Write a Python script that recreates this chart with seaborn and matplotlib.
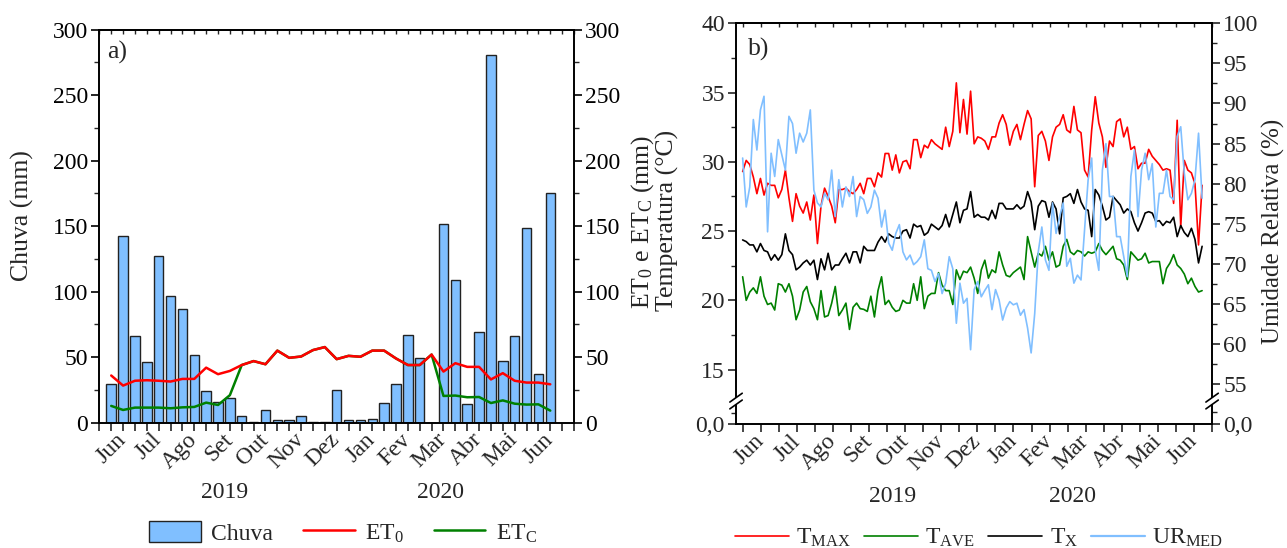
import numpy as np
import pandas as pd
import matplotlib
matplotlib.use("Agg")
import matplotlib.pyplot as plt
import seaborn as sns
from matplotlib.ticker import MultipleLocator, FixedLocator
from matplotlib.patches import Patch, Rectangle
from matplotlib.lines import Line2D

# ---------------- data: panel a (decendial) ----------------
meses = ['Jun', 'Jul', 'Ago', 'Set', 'Out', 'Nov', 'Dez', 'Jan', 'Fev', 'Mar', 'Abr', 'Mai', 'Jun']
decendio = list(range(1, 39))
chuva = [29.8, 142.4, 65.8, 46.4, 127, 97, 86.5, 51.8, 24, 15.6, 19, 5, 0.8, 10, 1.8, 2.3, 5, 0.3, 0.5,
         24.7, 2.3, 2.3, 3, 15.3, 29.3, 67.3, 49.5, 0, 151.5, 109, 14.3, 69, 281, 47, 66.3, 148.6, 37, 175.4]
et0 = [36, 28.3, 32, 32.4, 32, 31.4, 33.4, 33.4, 42, 37, 39.5, 44, 47, 44.6, 55, 49.5, 50.5, 55.4, 57.7,
       48.5, 51, 50.3, 55, 55, 49, 44, 44, 52, 39, 45.4, 42.6, 42.6, 33, 37.8, 32, 30.6, 30.6, 29.3]
etc = [12.8, 9.7, 11.5, 11.5, 11.5, 11, 11.7, 12, 15.3, 13.5, 21, 44, 47, 44.6, 55, 49.5, 50.5, 55.4, 57.7,
       48.5, 51, 50.3, 55, 55, 49, 44, 44, 52, 20.4, 20.7, 19.4, 19.6, 15, 17, 14.5, 13.8, 14, 9.2]

# ---------------- data: panel b (every 3 days from 2019-06-01) ----------------
tmax = [29.3, 30.1, 29.8, 28.9, 27.7, 28.8, 27.6, 28.45, 28.3, 28.3, 27.4, 28.0, 29.4, 27.4, 25.7, 27.7, 26.8,
        26.3, 27.1, 25.8, 27.6, 24.1, 26.8, 28.1, 27.5, 26.8, 25.6, 28.0, 28.0, 28.1, 27.85, 27.7, 28.0, 28.45,
        27.7, 28.8, 28.8, 28.2, 29.2, 28.9, 30.6, 30.6, 29.4, 30.5, 29.2, 30.0, 30.1, 29.5, 31.6, 31.6, 30.3,
        31.2, 31.0, 31.6, 31.3, 31.1, 30.9, 32.5, 31.1, 32.2, 35.7, 32.1, 34.5, 32.0, 35.1, 31.3, 31.8,
        31.7, 31.5, 30.9, 31.8, 31.8, 32.8, 33.4, 32.7, 31.2, 32.2, 32.7, 31.6, 32.7, 33.7, 33.1, 28.2, 31.9,
        32.2, 31.5, 30.1, 31.8, 32.5, 32.7, 33.4, 32.3, 32.1, 34.0, 32.3, 32.1, 29.4, 28.9, 32.3, 34.7, 32.8,
        31.8, 29.6, 31.5, 31.1, 32.9, 33.1, 31.8, 32.5, 30.9, 31.1, 29.5, 29.9, 29.9, 30.9, 30.4, 30.1, 29.8,
        29.4, 29.5, 29.4, 27.0, 33.0, 25.3, 30.1, 29.4, 29.2, 28.4, 24.0, 28.3]
tave = [21.7, 20.0, 20.6, 20.9, 20.5, 21.7, 20.3, 19.7, 19.8, 19.3, 21.2, 21.1, 20.6, 21.2, 20.3, 18.6, 19.3,
        20.6, 21.0, 19.9, 19.4, 18.6, 20.7, 18.8, 18.9, 19.8, 21.0, 18.9, 19.3, 19.8, 17.9, 19.5, 19.8, 19.4,
        19.35, 19.2, 20.3, 18.8, 20.7, 21.7, 19.7, 20.0, 19.5, 19.2, 19.3, 20.0, 19.8, 19.8, 21.2, 20.0, 21.7,
        19.4, 20.3, 20.5, 20.5, 22.0, 21.1, 20.7, 20.7, 19.7, 22.2, 21.5, 22.1, 22.0, 22.4, 21.6, 20.5,
        22.2, 22.9, 21.6, 22.2, 22.0, 23.5, 22.55, 21.8, 21.7, 22.0, 22.2, 22.4, 21.5, 24.6, 23.5, 22.4, 23.4,
        23.2, 23.9, 22.9, 23.5, 22.4, 22.55, 23.9, 24.4, 23.5, 23.3, 23.6, 23.5, 23.2, 23.5, 23.4, 23.5, 24.1,
        23.6, 23.3, 23.6, 23.9, 23.0, 22.9, 22.55, 21.5, 23.5, 23.2, 22.9, 23.0, 23.4, 22.7, 22.8, 22.8, 22.8,
        21.2, 22.3, 22.7, 23.3, 22.55, 22.3, 21.9, 21.2, 21.6, 21.0, 20.6, 20.7]
tx = [24.36, 24.24, 24.0, 24.0, 23.5, 24.1, 23.6, 23.5, 22.9, 23.3, 22.9, 23.3, 24.8, 23.6, 23.3, 22.2, 22.4,
      22.7, 22.9, 22.55, 22.9, 21.5, 23.0, 22.2, 23.4, 22.2, 22.55, 22.55, 23.0, 23.4, 22.7, 23.5, 23.5, 22.7,
      23.9, 23.6, 23.6, 23.6, 24.2, 24.6, 24.2, 24.8, 24.6, 24.5, 24.5, 25.0, 25.1, 24.5, 25.5, 25.3, 25.4,
      24.7, 24.9, 25.5, 25.3, 25.1, 25.4, 26.2, 25.3, 26.2, 27.1, 25.6, 26.5, 26.6, 27.85, 26.0, 26.2,
      26.0, 26.0, 25.8, 26.5, 25.9, 27.0, 27.0, 26.6, 26.6, 26.6, 26.9, 26.6, 26.8, 27.85, 27.1, 25.1, 26.8,
      27.2, 27.1, 26.0, 27.1, 26.6, 24.8, 27.4, 27.5, 27.7, 27.0, 28.0, 27.1, 26.6, 26.5, 24.6, 28.0, 27.6,
      26.8, 25.8, 26.0, 27.5, 27.2, 26.9, 26.3, 26.6, 26.4, 25.6, 25.0, 25.6, 26.3, 26.4, 26.3, 25.7, 25.75,
      25.4, 25.7, 25.6, 26.0, 24.6, 25.4, 24.9, 24.6, 25.2, 24.4, 22.7, 23.9]
urmed = [83.2, 77.1, 79.6, 88.0, 84.2, 89.2, 90.9, 74.0, 83.8, 80.9, 85.5, 83.6, 81.7, 88.4, 87.5, 83.8, 86.3,
         85.2, 86.3, 89.2, 79.2, 77.6, 77.1, 78.8, 78.0, 81.7, 75.9, 80.5, 77.1, 79.6, 78.4, 80.9, 75.9, 78.4,
         78.0, 76.3, 77.1, 79.2, 78.2, 74.6, 76.7, 72.6, 71.7, 73.8, 74.9, 71.5, 70.5, 71.1, 69.9, 70.3, 70.9,
         73.0, 69.4, 69.2, 67.8, 68.8, 66.3, 67.6, 70.9, 69.4, 62.6, 67.6, 65.1, 65.7, 59.3, 66.8, 67.8,
         65.9, 66.7, 67.4, 64.3, 66.8, 65.5, 63.0, 64.5, 65.3, 64.9, 65.1, 63.6, 64.3, 62.0, 58.9, 63.8, 71.5,
         74.6, 70.5, 69.2, 77.6, 73.8, 75.9, 77.6, 69.7, 70.7, 67.6, 68.6, 68.0, 74.2, 80.5, 83.2, 71.7, 69.2,
         81.7, 85.0, 78.4, 78.4, 73.4, 73.4, 70.9, 68.4, 80.9, 84.2, 75.9, 81.7, 83.8, 80.5, 82.5, 74.6, 78.8,
         78.8, 81.7, 78.4, 78.0, 85.9, 87.1, 81.3, 78.0, 78.8, 80.5, 86.3, 78.2]

datas = pd.date_range('2019-06-01', periods=len(tmax), freq='3D')
dias = np.asarray((datas - datas[0]).days, dtype=float)

# ---------------- style ----------------
sns.set_theme(style='ticks')
plt.rcParams['font.family'] = ['Liberation Serif', 'DejaVu Serif']
plt.rcParams['mathtext.fontset'] = 'custom'
plt.rcParams['mathtext.rm'] = 'Liberation Serif'
plt.rcParams['mathtext.it'] = 'Liberation Serif:italic'
plt.rcParams['mathtext.bf'] = 'Liberation Serif:bold'
plt.rcParams['axes.linewidth'] = 1.2
plt.rcParams['axes.edgecolor'] = 'black'

TICK = 17
LAB = 18.5
AZUL = '#80BFFF'

fig = plt.figure(figsize=(12.87, 5.48), dpi=100)
fig.patch.set_facecolor('white')

# ======================= panel a =======================
axa = fig.add_axes([0.0772, 0.2287, 0.3688, 0.7172])
dfa = pd.DataFrame({'decendio': decendio, 'chuva': chuva, 'et0': et0, 'etc': etc})
sns.barplot(data=dfa, x='decendio', y='chuva', native_scale=True, color=AZUL, saturation=1,
            edgecolor='#222222', linewidth=1.0, width=0.8, errorbar=None, ax=axa)
axa2 = axa.twinx()
sns.lineplot(data=dfa, x='decendio', y='etc', color='#008000', lw=1.8, ax=axa2)
sns.lineplot(data=dfa, x='decendio', y='et0', color='#FF0000', lw=1.8, ax=axa2)

axa.set_xlim(0, 40)
axa.set_ylim(0, 300)
axa2.set_ylim(0, 300)
for ax in (axa, axa2):
    ax.yaxis.set_major_locator(MultipleLocator(50))
    ax.yaxis.set_minor_locator(MultipleLocator(25))
    ax.tick_params(axis='y', which='major', direction='out', length=6, width=1.2, labelsize=TICK, pad=2, colors='black')
    ax.tick_params(axis='y', which='minor', direction='out', length=3.5, width=1.0)

labs = [''] * 41
for i, m in enumerate(meses):
    labs[2 + 3 * i] = m
axa.set_xticks(range(41))
axa.set_xticklabels(labs)
axa.tick_params(axis='x', direction='out', length=6, width=1.2, labelsize=TICK, pad=4)
for t in axa.get_xticklabels():
    t.set_rotation(45)
    t.set_ha('right')
    t.set_va('center')
    t.set_rotation_mode('anchor')
sa = axa.secondary_xaxis('top')
sa.set_xticks(range(41))
sa.tick_params(direction='in', length=3, width=1.0, labeltop=False)

axa.set_xlabel('')
axa.set_ylabel('Chuva (mm)', fontsize=LAB)
axa.yaxis.label.set_va('center')
axa.yaxis.set_label_coords(-0.163, 0.528)
axa2.set_ylabel(r'ET$_0$ e ET$_\mathrm{C}$ (mm)', fontsize=LAB)
axa2.yaxis.label.set_va('center')
axa2.yaxis.set_label_coords(1.145, 0.511)
axa.text(0.016, 0.943, 'a)', transform=axa.transAxes, fontsize=LAB, ha='left', va='center')

fig.text(225 / 1287, 1 - 493 / 548, '2019', ha='center', va='center', fontsize=TICK)
fig.text(440 / 1287, 1 - 493 / 548, '2020', ha='center', va='center', fontsize=TICK)

hand_a = [Patch(facecolor=AZUL, edgecolor='#222222', lw=1.0),
          Line2D([], [], color='#FF0000', lw=1.8),
          Line2D([], [], color='#008000', lw=1.8)]
fig.legend(hand_a, ['Chuva', r'ET$_0$', r'ET$_\mathrm{C}$'], loc='center', bbox_to_anchor=(343 / 1287, 1 - 533 / 548),
           ncol=3, frameon=False, fontsize=TICK, handlelength=2.2, handleheight=1.0, handletextpad=0.45,
           columnspacing=1.25, borderpad=0.1)

# ======================= panel b =======================
axb = fig.add_axes([0.5719, 0.2257, 0.3699, 0.7318])
dfb = pd.DataFrame({'dia': dias, 'tmax': tmax, 'tave': tave, 'tx': tx, 'urmed': urmed})
sns.lineplot(data=dfb, x='dia', y='tmax', color='#FF0000', lw=1.2, ax=axb)
sns.lineplot(data=dfb, x='dia', y='tave', color='#008000', lw=1.2, ax=axb)
sns.lineplot(data=dfb, x='dia', y='tx', color='black', lw=1.2, ax=axb)
axb2 = axb.twinx()
sns.lineplot(data=dfb, x='dia', y='urmed', color=AZUL, lw=1.2, ax=axb2)

meio_mes = 365 / 24
axb.set_xlim(-0.366 * meio_mes, 26 * meio_mes)
tk = [k * meio_mes for k in range(27)]
labs_b = [''] * 27
for i, m in enumerate(meses):
    labs_b[1 + 2 * i] = m
axb.set_xticks(tk)
axb.set_xticklabels(labs_b)
axb.tick_params(axis='x', direction='out', length=6, width=1.2, labelsize=TICK, pad=4)
for t in axb.get_xticklabels():
    t.set_rotation(45)
    t.set_ha('right')
    t.set_va('center')
    t.set_rotation_mode('anchor')
sb = axb.secondary_xaxis('top')
sb.set_xticks(tk)
sb.tick_params(direction='in', length=3, width=1.0, labeltop=False)

tbot = 11.05
axb.set_ylim(tbot, 40)
axb.yaxis.set_major_locator(FixedLocator([tbot, 15, 20, 25, 30, 35, 40]))
axb.set_yticklabels(['0,0', '15', '20', '25', '30', '35', '40'])
axb.yaxis.set_minor_locator(FixedLocator([11.85, 17.5, 22.5, 27.5, 32.5, 37.5]))
axb2.set_ylim(50, 100)
axb2.yaxis.set_major_locator(FixedLocator([50, 55, 60, 65, 70, 75, 80, 85, 90, 95, 100]))
axb2.set_yticklabels(['0,0', '55', '60', '65', '70', '75', '80', '85', '90', '95', '100'])
axb2.yaxis.set_minor_locator(FixedLocator([51.5, 57.5, 62.5, 67.5, 72.5, 77.5, 82.5, 87.5, 92.5, 97.5]))
for ax in (axb, axb2):
    ax.tick_params(axis='y', which='major', direction='out', length=6, width=1.2, labelsize=TICK, pad=2)
    ax.tick_params(axis='y', which='minor', direction='out', length=3.5, width=1.0)

axb.set_xlabel('')
axb.set_ylabel('Temperatura (°C)', fontsize=LAB)
axb.yaxis.label.set_va('center')
axb.yaxis.set_label_coords(-0.145, 0.509)
axb2.set_ylabel('Umidade Relativa (%)', fontsize=18)
axb2.yaxis.label.set_va('center')
axb2.yaxis.set_label_coords(1.128, 0.48)
axb.text(0.025, 0.936, 'b)', transform=axb.transAxes, fontsize=LAB, ha='left', va='center')

# axis break marks
yb = 0.058
for xb in (0.0, 1.0):
    axb2.add_patch(Rectangle((xb - 0.006, yb - 0.008), 0.012, 0.016, transform=axb2.transAxes,
                             facecolor='white', edgecolor='none', clip_on=False, zorder=20))
    for dy in (-0.0085, 0.0085):
        axb2.plot([xb - 0.013, xb + 0.013], [yb + dy - 0.011, yb + dy + 0.011], transform=axb2.transAxes,
                  color='black', lw=1.2, clip_on=False, zorder=21)

fig.text(893 / 1287, 1 - 496 / 548, '2019', ha='center', va='center', fontsize=TICK)
fig.text(1073 / 1287, 1 - 496 / 548, '2020', ha='center', va='center', fontsize=TICK)

hand_b = [Line2D([], [], color='#FF0000', lw=1.2), Line2D([], [], color='#008000', lw=1.2),
          Line2D([], [], color='black', lw=1.2), Line2D([], [], color=AZUL, lw=1.6)]
fig.legend(hand_b, [r'T$_\mathrm{MAX}$', r'T$_\mathrm{AVE}$', r'T$_\mathrm{X}$', r'UR$_\mathrm{MED}$'],
           loc='center', bbox_to_anchor=(979 / 1287, 1 - 538 / 548), ncol=4, frameon=False, fontsize=TICK,
           handlelength=2.3, handletextpad=0.3, columnspacing=0.55, borderpad=0.05)

for ax in (axa, axa2, axb, axb2):
    for s in ax.spines.values():
        s.set_visible(True)
        s.set_linewidth(1.2)
        s.set_color('black')

fig.savefig('out.png', dpi=100, facecolor='white')
